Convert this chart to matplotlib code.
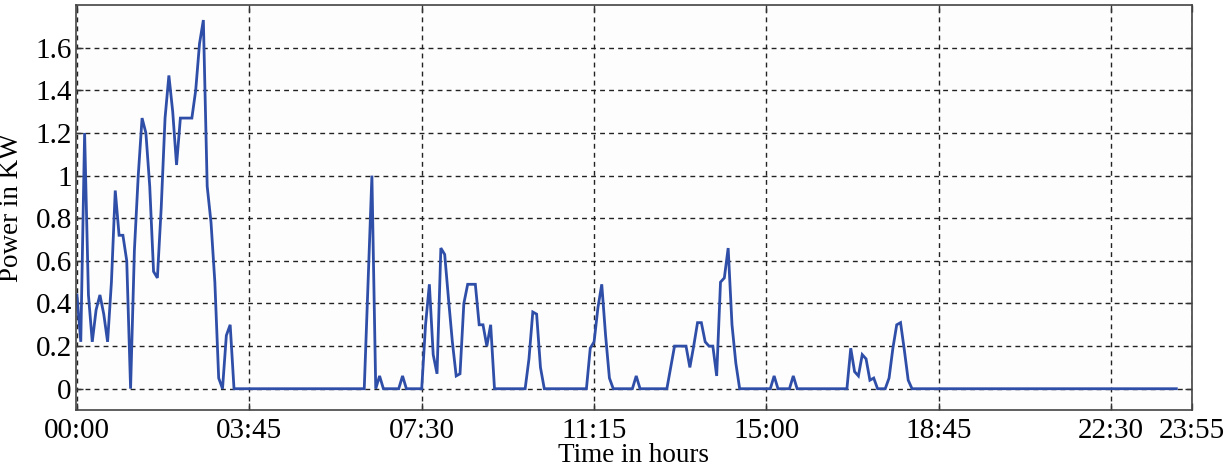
import matplotlib
matplotlib.use("Agg")
import matplotlib.pyplot as plt
import numpy as np

# household power, one reading every 5 minutes (12 per hour), in kW
hour_00 = [0.44, 0.22, 1.2, 0.44, 0.22, 0.37, 0.44, 0.35, 0.22, 0.5, 0.93, 0.72]
hour_01 = [0.72, 0.6, 0.0, 0.65, 1.0, 1.27, 1.2, 0.95, 0.55, 0.52, 0.85, 1.27]
hour_02 = [1.47, 1.3, 1.05, 1.27, 1.27, 1.27, 1.27, 1.4, 1.62, 1.73, 0.95, 0.78]
hour_03 = [0.5, 0.05, 0.0, 0.25, 0.3, 0.0, 0.0, 0.0, 0.0, 0.0, 0.0, 0.0]
hour_04 = [0.0, 0.0, 0.0, 0.0, 0.0, 0.0, 0.0, 0.0, 0.0, 0.0, 0.0, 0.0]
hour_05 = [0.0, 0.0, 0.0, 0.0, 0.0, 0.0, 0.0, 0.0, 0.0, 0.0, 0.0, 0.0]
hour_06 = [0.0, 0.0, 0.0, 0.0, 0.5, 1.0, 0.0, 0.06, 0.0, 0.0, 0.0, 0.0]
hour_07 = [0.0, 0.06, 0.0, 0.0, 0.0, 0.0, 0.0, 0.3, 0.49, 0.16, 0.07, 0.66]
hour_08 = [0.63, 0.42, 0.22, 0.06, 0.07, 0.4, 0.49, 0.49, 0.49, 0.3, 0.3, 0.2]
hour_09 = [0.3, 0.0, 0.0, 0.0, 0.0, 0.0, 0.0, 0.0, 0.0, 0.0, 0.14, 0.36]
hour_10 = [0.35, 0.1, 0.0, 0.0, 0.0, 0.0, 0.0, 0.0, 0.0, 0.0, 0.0, 0.0]
hour_11 = [0.0, 0.0, 0.19, 0.22, 0.38, 0.49, 0.25, 0.05, 0.0, 0.0, 0.0, 0.0]
hour_12 = [0.0, 0.0, 0.06, 0.0, 0.0, 0.0, 0.0, 0.0, 0.0, 0.0, 0.0, 0.1]
hour_13 = [0.2, 0.2, 0.2, 0.2, 0.1, 0.2, 0.31, 0.31, 0.22, 0.2, 0.2, 0.06]
hour_14 = [0.5, 0.52, 0.66, 0.3, 0.12, 0.0, 0.0, 0.0, 0.0, 0.0, 0.0, 0.0]
hour_15 = [0.0, 0.0, 0.06, 0.0, 0.0, 0.0, 0.0, 0.06, 0.0, 0.0, 0.0, 0.0]
hour_16 = [0.0, 0.0, 0.0, 0.0, 0.0, 0.0, 0.0, 0.0, 0.0, 0.0, 0.19, 0.08]
hour_17 = [0.06, 0.16, 0.14, 0.04, 0.05, 0.0, 0.0, 0.0, 0.05, 0.19, 0.3, 0.31]
hour_18 = [0.18, 0.04, 0.0, 0.0, 0.0, 0.0, 0.0, 0.0, 0.0, 0.0, 0.0, 0.0]
hour_19 = [0.0, 0.0, 0.0, 0.0, 0.0, 0.0, 0.0, 0.0, 0.0, 0.0, 0.0, 0.0]
hour_20 = [0.0, 0.0, 0.0, 0.0, 0.0, 0.0, 0.0, 0.0, 0.0, 0.0, 0.0, 0.0]
hour_21 = [0.0, 0.0, 0.0, 0.0, 0.0, 0.0, 0.0, 0.0, 0.0, 0.0, 0.0, 0.0]
hour_22 = [0.0, 0.0, 0.0, 0.0, 0.0, 0.0, 0.0, 0.0, 0.0, 0.0, 0.0, 0.0]
hour_23 = [0.0, 0.0, 0.0, 0.0, 0.0, 0.0, 0.0, 0.0, 0.0, 0.0, 0.0, 0.0]

power = np.array(hour_00 + hour_01 + hour_02 + hour_03 + hour_04 + hour_05
                 + hour_06 + hour_07 + hour_08 + hour_09 + hour_10 + hour_11
                 + hour_12 + hour_13 + hour_14 + hour_15 + hour_16 + hour_17
                 + hour_18 + hour_19 + hour_20 + hour_21 + hour_22 + hour_23)
sample = np.arange(power.size)

tick_pos = [0, 45, 90, 135, 180, 225, 270, 291]
tick_lab = ["00:00", "03:45", "07:30", "11:15", "15:00", "18:45", "22:30", "23:55"]
y_ticks = [0, 0.2, 0.4, 0.6, 0.8, 1.0, 1.2, 1.4, 1.6]
y_labs = ["0", "0.2", "0.4", "0.6", "0.8", "1", "1.2", "1.4", "1.6"]

plt.rcParams["font.family"] = ["Liberation Serif", "DejaVu Serif"]

fig = plt.figure(figsize=(12.25, 4.67), dpi=100)
ax = fig.add_axes([0.062, 0.122, 0.9108, 0.867])
ax.set_facecolor("#fdfdfd")

ax.plot(sample, power, color="#2f4ea8", lw=2.0, solid_joinstyle="miter")

ax.set_xlim(-0.26, 291)
ax.set_ylim(-0.1, 1.8)
ax.set_xticks(tick_pos)
ax.set_xticklabels(tick_lab)
ax.set_yticks(y_ticks)
ax.set_yticklabels(y_labs)

ax.grid(True, color="#222222", ls=(0, (3.5, 3.0)), lw=1.0)
ax.tick_params(direction="in", length=5, width=1, top=True, right=True,
               labelsize=21, color="#333333")
ax.tick_params(axis="x", pad=6)
ax.tick_params(axis="y", pad=3)
for s in ax.spines.values():
    s.set_color("#444444")
    s.set_linewidth(1.2)

ax.set_xlabel("Time in hours", fontsize=19.5, labelpad=-1)
ax.set_ylabel("Power in KW", fontsize=19.5, labelpad=8)

fig.savefig("out.png", dpi=100)
